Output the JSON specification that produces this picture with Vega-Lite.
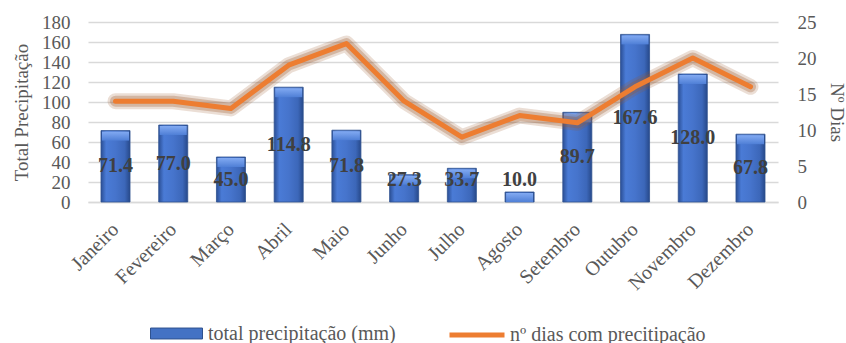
{
  "$schema": "https://vega.github.io/schema/vega-lite/v6.json",
  "width": 690,
  "height": 180,
  "autosize": "none",
  "padding": {"left": 88, "top": 22, "right": 68, "bottom": 141},
  "background": "white",
  "config": {
    "font": "Liberation Serif",
    "view": {"stroke": null},
    "axis": {
      "labelFont": "Liberation Serif",
      "titleFont": "Liberation Serif",
      "labelColor": "#595959",
      "titleColor": "#595959",
      "labelFontSize": 19,
      "titleFontSize": 19,
      "titleFontWeight": "normal",
      "gridColor": "#d9d9d9",
      "gridWidth": 1.5,
      "domain": false,
      "ticks": false
    },
    "legend": {
      "labelFont": "Liberation Serif",
      "labelFontSize": 19,
      "labelColor": "#595959",
      "labelLimit": 400,
      "padding": 0
    }
  },
  "data": {
    "values": [
      {"mes": "Janeiro", "precip": 71.4, "dias": 14},
      {"mes": "Fevereiro", "precip": 77.0, "dias": 14},
      {"mes": "Março", "precip": 45.0, "dias": 13},
      {"mes": "Abril", "precip": 114.8, "dias": 19},
      {"mes": "Maio", "precip": 71.8, "dias": 22},
      {"mes": "Junho", "precip": 27.3, "dias": 14},
      {"mes": "Julho", "precip": 33.7, "dias": 9},
      {"mes": "Agosto", "precip": 10.0, "dias": 12},
      {"mes": "Setembro", "precip": 89.7, "dias": 11},
      {"mes": "Outubro", "precip": 167.6, "dias": 16},
      {"mes": "Novembro", "precip": 128.0, "dias": 20},
      {"mes": "Dezembro", "precip": 67.8, "dias": 16}
    ]
  },
  "encoding": {
    "x": {
      "field": "mes",
      "type": "nominal",
      "sort": null,
      "scale": {"paddingInner": 0.497, "paddingOuter": 0.225},
      "axis": {
        "title": null,
        "labelAngle": -45,
        "labelAlign": "right",
        "labelBaseline": "middle",
        "labelPadding": 24,
        "labelFontSize": 20,
        "grid": false,
        "domain": true,
        "domainColor": "#d9d9d9",
        "domainWidth": 1.5
      }
    }
  },
  "layer": [
    {
      "encoding": {
        "y": {
          "type": "quantitative",
          "scale": {"domain": [0, 180]},
          "axis": {
            "title": "Total Precipitação",
            "values": [0, 20, 40, 60, 80, 100, 120, 140, 160, 180],
            "labelPadding": 18,
            "titlePadding": 10
          }
        }
      },
      "layer": [
        {
          "mark": {
            "type": "bar",
            "stroke": "#2f528f",
            "strokeWidth": 0.8,
            "color": {
              "gradient": "linear",
              "x1": 0, "y1": 0, "x2": 1, "y2": 0,
              "stops": [
                {"offset": 0, "color": "#2b4f95"},
                {"offset": 0.18, "color": "#4a7bd6"},
                {"offset": 0.5, "color": "#4674cc"},
                {"offset": 0.82, "color": "#3c67b9"},
                {"offset": 1, "color": "#27498a"}
              ]
            }
          },
          "encoding": {
            "y": {"field": "precip", "type": "quantitative"}
          }
        },
        {
          "mark": {
            "type": "tick",
            "orient": "horizontal",
            "thickness": 9,
            "size": 27,
            "yOffset": 5.5,
            "opacity": 1,
            "color": {
              "gradient": "linear",
              "x1": 0, "y1": 0, "x2": 0, "y2": 1,
              "stops": [
                {"offset": 0, "color": "#82aaf2"},
                {"offset": 1, "color": "#4f7fd6"}
              ]
            }
          },
          "encoding": {
            "y": {"field": "precip", "type": "quantitative"}
          }
        },
        {
          "mark": {"type": "bar", "strokeWidth": 0},
          "encoding": {
            "y": {"datum": 0},
            "y2": {"datum": 0},
            "fill": {
              "datum": "total precipitação (mm)",
              "type": "nominal",
              "scale": {"range": ["#4472C4"]},
              "legend": {
                "orient": "none",
                "legendX": 62,
                "legendY": 285,
                "title": null,
                "labelFont": "Liberation Serif",
                "labelFontSize": 20,
                "labelColor": "#595959",
                "symbolType": "M-1,-0.21H1V0.21H-1Z",
                "symbolSize": 2704,
                "symbolStrokeColor": "#2f528f",
                "symbolStrokeWidth": 1,
                "labelOffset": 5
              }
            }
          }
        },
        {
          "transform": [{"calculate": "max(datum.precip / 2, 22)", "as": "lbl"}],
          "mark": {
            "type": "text",
            "font": "Liberation Serif",
            "fontSize": 20,
            "fontWeight": "bold",
            "color": "#404040",
            "baseline": "middle"
          },
          "encoding": {
            "y": {"field": "lbl", "type": "quantitative"},
            "text": {"field": "precip", "type": "quantitative", "format": ".1f"}
          }
        }
      ]
    },
    {
      "encoding": {
        "y": {
          "field": "dias",
          "type": "quantitative",
          "scale": {"domain": [0, 25]},
          "axis": {
            "title": "Nº Dias",
            "orient": "right",
            "values": [0, 5, 10, 15, 20, 25],
            "grid": false,
            "labelPadding": 19,
            "titlePadding": 10
          }
        }
      },
      "layer": [
        {
          "mark": {"type": "line", "color": "#9c5a2e", "strokeWidth": 16, "opacity": 0.2, "strokeJoin": "round", "strokeCap": "round"}
        },
        {
          "mark": {"type": "line", "color": "#9c5a2e", "strokeWidth": 11, "opacity": 0.3, "strokeJoin": "round", "strokeCap": "round"}
        },
        {
          "mark": {"type": "line", "strokeWidth": 5, "strokeJoin": "round", "strokeCap": "round"},
          "encoding": {
            "stroke": {
              "datum": "nº dias com precitipação",
              "type": "nominal",
              "scale": {"range": ["#ED7D31"]},
              "legend": {
                "orient": "none",
                "legendX": 359,
                "legendY": 283,
                "title": null,
                "labelFont": "Liberation Serif",
                "labelFontSize": 20,
                "labelColor": "#595959",
                "symbolType": "stroke",
                "symbolSize": 3025,
                "symbolStrokeWidth": 5,
                "labelOffset": 3
              }
            }
          }
        }
      ]
    }
  ],
  "resolve": {"scale": {"y": "independent", "fill": "independent", "stroke": "independent"}}
}
